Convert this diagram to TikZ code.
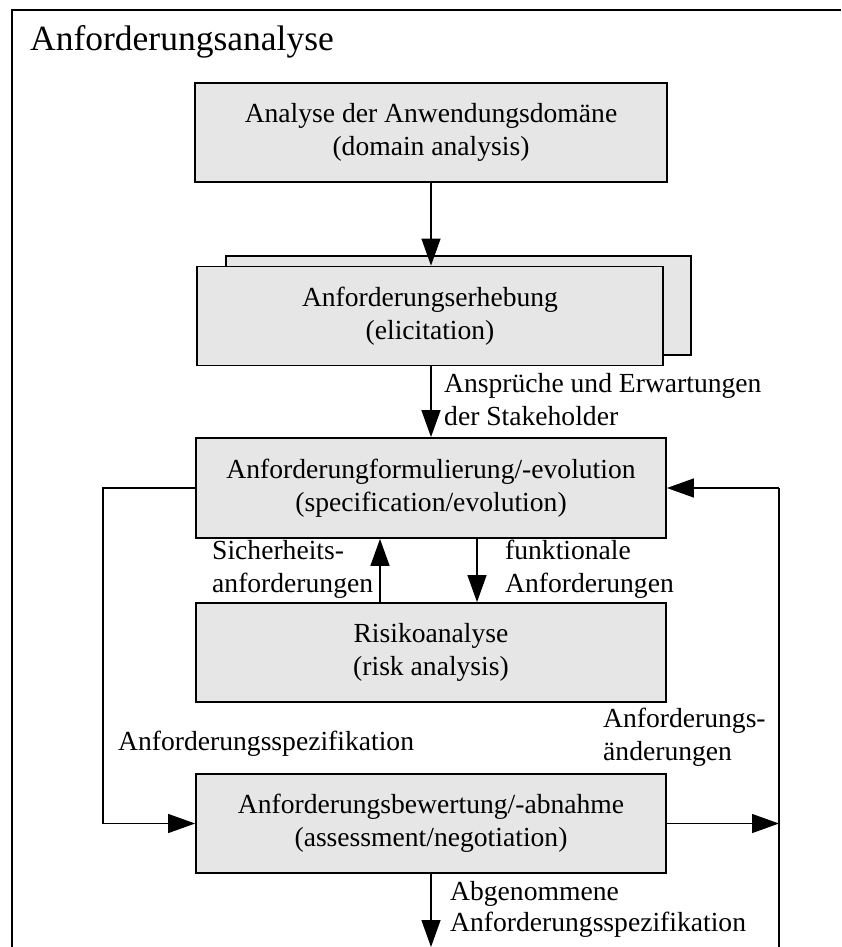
\documentclass[tikz,border=0pt]{standalone}
\usepackage{fontspec}
\setmainfont{Liberation Serif}
\usetikzlibrary{arrows.meta}
\definecolor{boxfill}{RGB}{230,230,230}
\begin{document}
\begin{tikzpicture}[x=1pt,y=-1pt,
  every node/.style={font=\fontsize{27.6}{33}\selectfont, inner sep=0pt},
  procbox/.style={draw=black, line width=1.8pt, fill=boxfill, align=center,
    minimum width=470pt, minimum height=99pt},
  flow/.style={line width=1.3pt, -{Triangle[length=27pt,width=19pt]}},
  plainline/.style={line width=1.3pt},
  lbl/.style={anchor=base west}]
\useasboundingbox (0,0) rectangle (841,947);

% outer frame (open to the right and below)
\draw[line width=1.8pt] (12,947) -- (12,10) -- (841,10);
\node[lbl, font=\fontsize{35.5}{40}\selectfont] (title) at (30,51) {Anforderungsanalyse};

% process boxes
\node[procbox, minimum width=472pt] (dom) at (431,132.5)
  {Analyse der Anwendungsdomäne\\(domain analysis)};
\node[procbox, minimum width=465pt] (elicback) at (458.5,305.5) {};
\node[procbox, minimum width=466pt] (elic) at (430,316)
  {Anforderungserhebung\\(elicitation)};
\node[procbox, minimum height=100pt] (spec) at (431,488)
  {Anforderungformulierung/-evolution\\(specification/evolution)};
\node[procbox] (risk) at (431,652.5)
  {Risikoanalyse\\(risk analysis)};
\node[procbox] (assess) at (431,823.5)
  {Anforderungsbewertung/-abnahme\\(assessment/negotiation)};

% helper coordinates for the connector routes
\coordinate (upx) at (380,0);
\coordinate (downx) at (477,0);
\coordinate (leftx) at (103,0);
\coordinate (rightx) at (779,0);
\coordinate (rightend) at (779,947);
\coordinate (outend) at (431,947);

% main flow
\draw[flow] (dom.south) -- (dom.south |- elic.north);
\draw[flow] (elic.south -| dom.south) -- (spec.north);
\draw[flow] (risk.north -| upx) -- (spec.south -| upx);
\draw[flow] (spec.south -| downx) -- (risk.north -| downx);
\draw[flow] (spec.west) -- (leftx |- spec.west) -- (leftx |- assess.west) -- (assess.west);
\draw[plainline] (rightend) -- (rightx |- spec.east);
\draw[flow] (rightx |- spec.east) -- (spec.east);
\draw[flow] (assess.east) -- (rightx |- assess.east);
\draw[flow] (assess.south) -- (outend);

% connector labels
\node[lbl] (claimsA) at (444,392) {Ansprüche und Erwartungen};
\node[lbl] (claimsB) at (444,425) {der Stakeholder};
\node[lbl] (safeA) at (212,559) {Sicherheits-};
\node[lbl] (safeB) at (212,592) {anforderungen};
\node[lbl] (funcA) at (505,559) {funktionale};
\node[lbl] (funcB) at (505,592) {Anforderungen};
\node[lbl] (specout) at (118,750) {Anforderungsspezifikation};
\node[lbl] (changeA) at (603,727) {Anforderungs-};
\node[lbl] (changeB) at (603,760) {änderungen};
\node[lbl] (acceptA) at (450,900) {Abgenommene};
\node[lbl] (acceptB) at (450,931) {Anforderungsspezifikation};
\end{tikzpicture}
\end{document}
